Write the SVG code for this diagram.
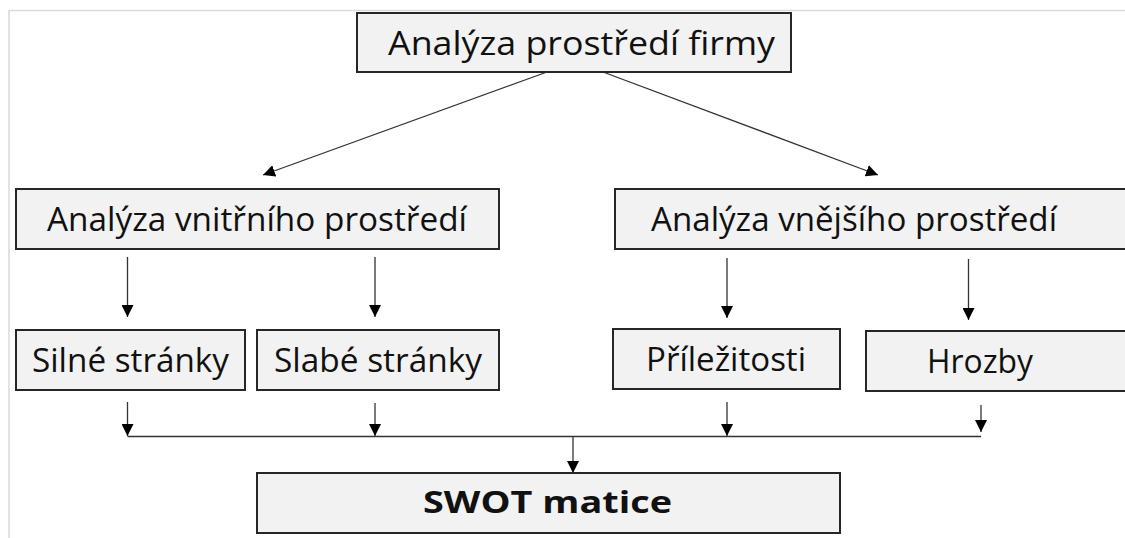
<svg xmlns="http://www.w3.org/2000/svg" width="1125" height="538" viewBox="0 0 1125 538">
<defs>
<style>
.box{fill:#f2f2f2;stroke:#262626;stroke-width:2}
.t{font-family:"Open Sans","Liberation Sans",sans-serif;font-size:33px;fill:#111;text-anchor:middle}
.b{font-weight:bold;font-size:31px}
.c{stroke:#333;stroke-width:1.3;fill:none}
</style>
<marker id="ah" viewBox="0 0 12 12" refX="12" refY="6" markerWidth="12" markerHeight="12" markerUnits="userSpaceOnUse" orient="auto">
<path d="M0,0 L12,6 L0,12 Z" fill="#000"/>
</marker>
</defs>
<rect width="1125" height="538" fill="#fff"/>
<path d="M9,538 V10.5 H1125" fill="none" stroke="#d9d9d9" stroke-width="1.5"/>
<g id="connectors">
<line class="c" x1="547" y1="72" x2="263" y2="175" marker-end="url(#ah)"/>
<line class="c" x1="603" y1="72" x2="878" y2="175" marker-end="url(#ah)"/>
<line class="c" x1="127.5" y1="257" x2="127.5" y2="317" marker-end="url(#ah)"/>
<line class="c" x1="375" y1="257" x2="375" y2="317" marker-end="url(#ah)"/>
<line class="c" x1="727" y1="258" x2="727" y2="318" marker-end="url(#ah)"/>
<line class="c" x1="968.5" y1="259" x2="968.5" y2="320" marker-end="url(#ah)"/>
<line class="c" x1="127.5" y1="402" x2="127.5" y2="436" marker-end="url(#ah)"/>
<line class="c" x1="375" y1="403" x2="375" y2="436" marker-end="url(#ah)"/>
<line class="c" x1="727" y1="402" x2="727" y2="436" marker-end="url(#ah)"/>
<line class="c" x1="981" y1="405" x2="981" y2="432" marker-end="url(#ah)"/>
<line class="c" x1="127.5" y1="436.5" x2="981" y2="436.5"/>
<line class="c" x1="573" y1="436.5" x2="573" y2="473" marker-end="url(#ah)"/>
</g>
<g id="n-top"><rect class="box" x="357" y="13" width="434" height="59"/><text class="t" x="581.5" y="55" textLength="387" lengthAdjust="spacingAndGlyphs">Analýza prostředí firmy</text></g>
<g id="n-vnitrni"><rect class="box" x="16" y="189" width="483" height="60"/><text class="t" x="257" y="231" textLength="420" lengthAdjust="spacingAndGlyphs">Analýza vnitřního prostředí</text></g>
<g id="n-vnejsi"><rect class="box" x="615" y="189" width="520" height="60"/><text class="t" x="854" y="231" textLength="406" lengthAdjust="spacingAndGlyphs">Analýza vnějšího prostředí</text></g>
<g id="n-silne"><rect class="box" x="16" y="330" width="229" height="60"/><text class="t" x="130.5" y="372" textLength="197" lengthAdjust="spacingAndGlyphs">Silné stránky</text></g>
<g id="n-slabe"><rect class="box" x="257" y="330" width="242" height="60"/><text class="t" x="378" y="372" textLength="208" lengthAdjust="spacingAndGlyphs">Slabé stránky</text></g>
<g id="n-prilezitosti"><rect class="box" x="613" y="329" width="227" height="60"/><text class="t" x="726" y="371" textLength="160" lengthAdjust="spacingAndGlyphs">Příležitosti</text></g>
<g id="n-hrozby"><rect class="box" x="866" y="331" width="269" height="60"/><text class="t" x="980" y="373" textLength="106" lengthAdjust="spacingAndGlyphs">Hrozby</text></g>
<g id="n-swot"><rect class="box" x="257" y="473" width="583" height="60"/><text class="t b" x="547.5" y="513" textLength="249" lengthAdjust="spacingAndGlyphs">SWOT matice</text></g>
</svg>
